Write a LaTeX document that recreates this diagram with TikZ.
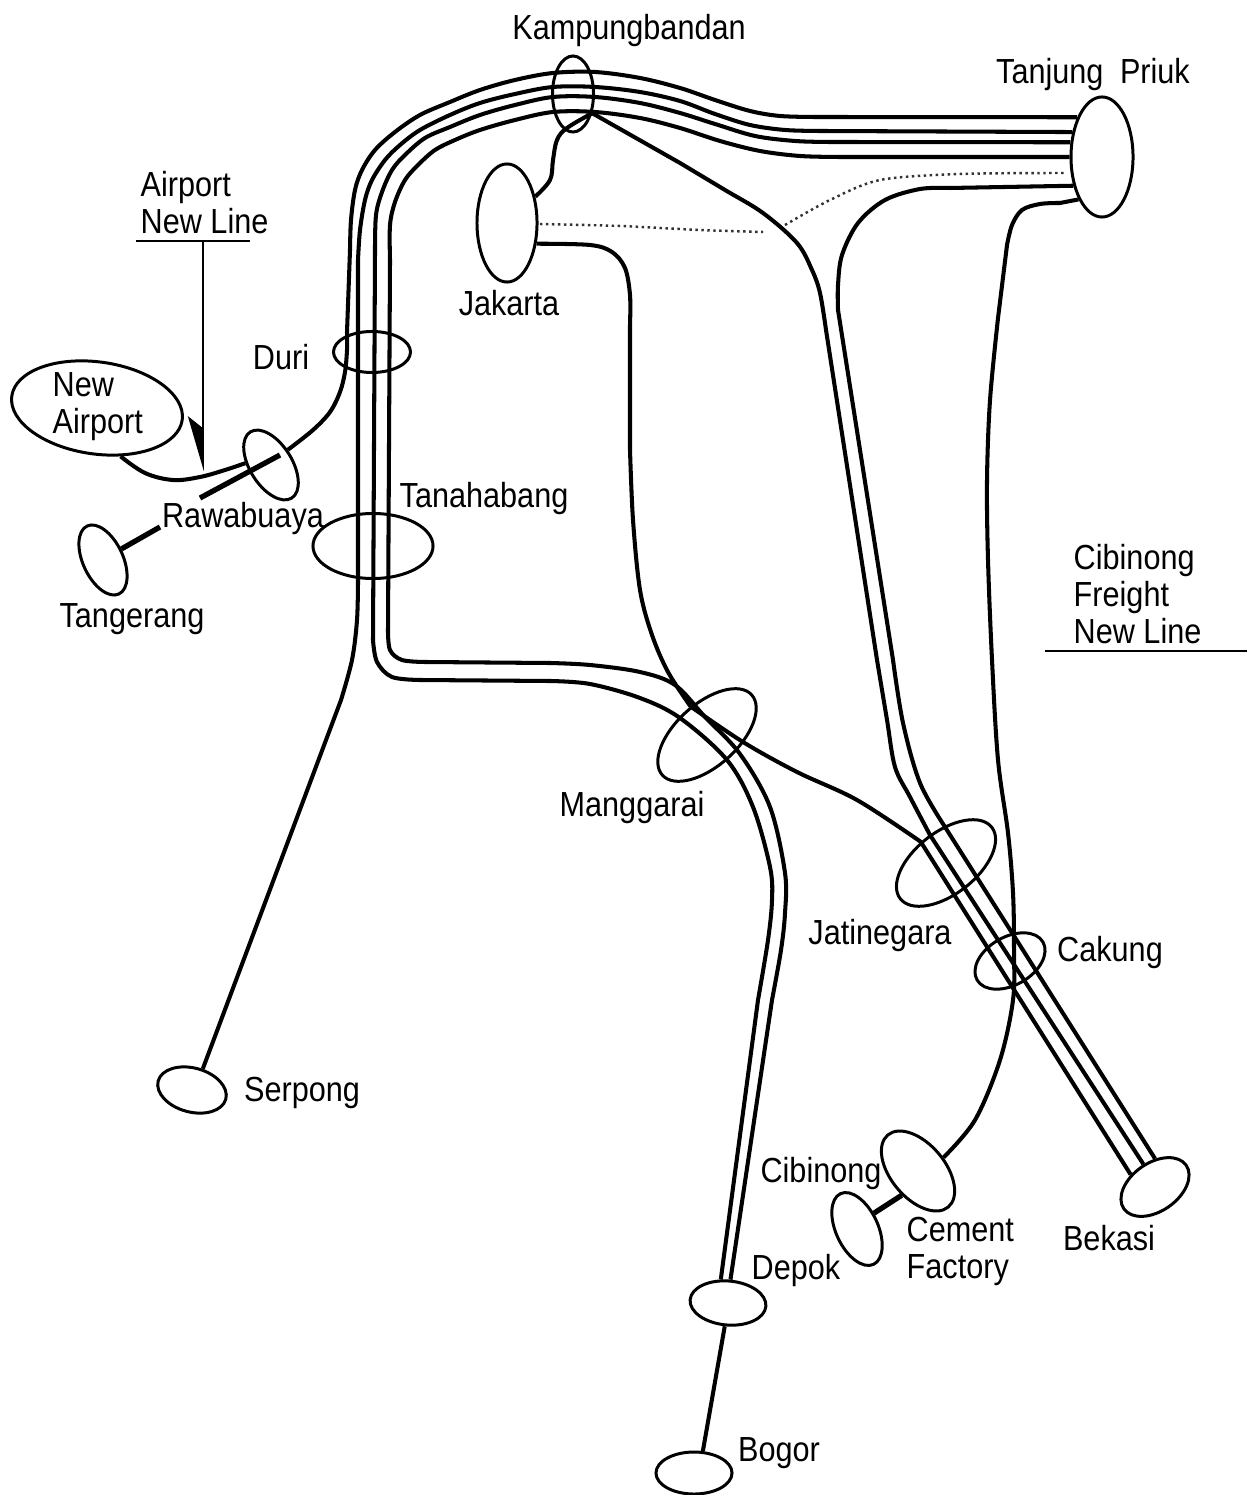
\documentclass[tikz,border=0pt]{standalone}
\usepackage{fontspec}
\setmainfont[FakeStretch=0.88]{Liberation Sans}
\usetikzlibrary{shapes.geometric, arrows.meta}
\tikzset{
  station/.style={ellipse, draw=black, inner sep=0pt, line width=0.85pt},
  place/.style={inner sep=0pt, align=left, font=\fontsize{9.9}{10.5}\selectfont},
  rail/.style={line width=1.15pt, color=black},
  spur/.style={line width=1.5pt, color=black},
  thinline/.style={line width=0.45pt, color=black},
  planned/.style={line width=0.7pt, densely dotted, color=black!80}
}
\begin{document}
\begin{tikzpicture}[x=0.01cm, y=-0.01cm]
  \useasboundingbox (0,0) rectangle (1249,1495);

  % Stations
  \node[station, minimum width=0.41cm, minimum height=0.76cm] (kampung) at (573,94) {};
  \node[station, minimum width=0.62cm, minimum height=1.2cm] (tanjung) at (1102,157) {};
  \node[station, minimum width=0.6cm, minimum height=1.18cm] (jakarta) at (507,223) {};
  \node[station, minimum width=0.77cm, minimum height=0.41cm] (duri) at (372,352) {};
  \node[station, minimum width=1.72cm, minimum height=0.92cm, rotate=-8] (newairport) at (97,408) {};
  \node[station, minimum width=0.78cm, minimum height=0.42cm, rotate=-58] (rawabuaya) at (271,465) {};
  \node[station, minimum width=1.2cm, minimum height=0.65cm] (tanahabang) at (373,546) {};
  \node[station, minimum width=0.75cm, minimum height=0.4cm, rotate=-65] (tangerang) at (103,560) {};
  \node[station, minimum width=1.2cm, minimum height=0.62cm, rotate=42] (manggarai) at (707,735) {};
  \node[station, minimum width=1.16cm, minimum height=0.62cm, rotate=38] (jatinegara) at (946,863) {};
  \node[station, minimum width=0.76cm, minimum height=0.48cm, rotate=30] (cakung) at (1010,961) {};
  \node[station, minimum width=0.7cm, minimum height=0.44cm, rotate=-15] (serpong) at (192,1090) {};
  \node[station, minimum width=0.94cm, minimum height=0.54cm, rotate=-50] (cement) at (918,1171) {};
  \node[station, minimum width=0.78cm, minimum height=0.42cm, rotate=-65] (cibinong) at (857,1229) {};
  \node[station, minimum width=0.76cm, minimum height=0.48cm, rotate=35] (bekasi) at (1155,1187) {};
  \node[station, minimum width=0.76cm, minimum height=0.44cm, rotate=-5] (depok) at (728,1303) {};
  \node[station, minimum width=0.76cm, minimum height=0.42cm] (bogor) at (694,1473) {};

  % Labels
  \node[place] (kampunglabel) at (629,31) {Kampungbandan};
  \node[place] (tanjunglabel) at (1093,75) {Tanjung\hspace{0.08cm} Priuk};
  \node[place, anchor=west] (airportlabel) at (140,203) {Airport\\New Line};
  \node[place] (jakartalabel) at (509,303) {Jakarta};
  \node[place] (durilabel) at (281,357) {Duri};
  \node[place, anchor=west] (newairportlabel) at (52,407) {New\\Airport};
  \node[place] (rawabuayalabel) at (243,519) {Rawabuaya};
  \node[place] (tanahabanglabel) at (484,499) {Tanahabang};
  \node[place] (tangeranglabel) at (132,619) {Tangerang};
  \node[place, anchor=west] (freightlabel) at (1073,594) {Cibinong\\Freight\\New Line};
  \node[place] (manggarailabel) at (632,807) {Manggarai};
  \node[place] (jatinegaralabel) at (880,935) {Jatinegara};
  \node[place] (cakunglabel) at (1110,952) {Cakung};
  \node[place] (serponglabel) at (302,1093) {Serpong};
  \node[place] (cibinonglabel) at (821,1173) {Cibinong};
  \node[place, anchor=west] (cementlabel) at (906,1251) {Cement\\Factory};
  \node[place] (bekasilabel) at (1109,1238) {Bekasi};
  \node[place] (depoklabel) at (796,1270) {Depok};
  \node[place] (bogorlabel) at (779,1453) {Bogor};

  % Underlines and the airport arrow
  \coordinate (airportleft) at (136,241);
  \coordinate (airportright) at (250,241);
  \coordinate (airportdrop) at (203,241);
  \coordinate (airporttip) at (203,471);
  \coordinate (freightleft) at (1045,651);
  \coordinate (freightright) at (1247,651);
  \draw[thinline] (airportleft) -- (airportright);
  \draw[thinline] (freightleft) -- (freightright);
  \draw[thinline, -{Stealth[harpoon, swap, length=14.8pt, width=8.6pt, inset=3.4pt]}] (airportdrop) -- (airporttip);

  % Four tracks out of Tanjung Priuk
  \draw[rail] (tanjung.122) -- plot[smooth, tension=0.55] coordinates {(815,117) (780,116) (750,111) (715,100) (680,88) (640,78) (595,72) (553,73) (515,80) (480,90) (450,102) (420,115) (395,132) (375,150) (362,170) (355,190) (351,220) (350,250)}
    -- plot[smooth, tension=0.55] coordinates {(347,332) (347,350) (345,372) (340,392) (330,412) (313,430) (rawabuaya.100)};
  \draw[rail] (tanjung.140) -- plot[smooth, tension=0.55] coordinates {(820,131) (785,130) (750,125) (715,114) (680,101) (640,92) (595,87) (553,87) (515,94) (480,103) (450,115) (420,130) (400,145) (385,160) (372,180) (365,200) (360,230) (358,260)}
    -- plot[smooth, tension=0.55] coordinates {(358,580) (357,620) (352,660) (341,700)} -- (serpong.78);
  \draw[rail] (tanjung.155) -- plot[smooth, tension=0.55] coordinates {(830,142) (795,141) (755,136) (715,124) (680,113) (640,103) (595,97) (553,97) (515,105) (480,115) (450,127) (425,138) (405,155) (392,170) (382,192) (376,215) (375,250)}
    -- plot[smooth, tension=0.55] coordinates {(373,640) (377,662) (392,677) (420,680)}
    -- plot[smooth, tension=0.55] coordinates {(550,681) (590,684) (640,698) (680,718) (727,760) (753,807) (770,867) (772,900) (768,940) (758,1000)} -- (depok.112);
  \draw[rail] (tanjung.180) -- plot[smooth, tension=0.55] coordinates {(840,157) (800,156) (760,151) (720,141) (680,128) (640,118) (595,112) (553,112) (515,120) (480,130) (455,140) (435,150) (418,165) (405,180) (395,202) (390,225) (390,260)}
    -- plot[smooth, tension=0.55] coordinates {(388,630) (390,650) (402,660) (425,662)}
    -- plot[smooth, tension=0.55] coordinates {(550,663) (590,665) (640,672) (675,685) (705,717) (740,754) (770,807) (785,873) (785,913) (781,950) (772,1000)} -- (depok.89);
  \draw[rail] (depok.267) -- (bogor.68);

  % Rawabuaya branch
  \coordinate (airportspur) at (280,455);
  \coordinate (airportspurend) at (200,498);
  \coordinate (tangerangspur) at (160,527);
  \draw[rail] plot[smooth, tension=0.6] coordinates {(rawabuaya.234) (225,470) (200,477) (173,480) (145,473) (newairport.-56)};
  \draw[spur] (airportspur) -- (airportspurend);
  \draw[spur] (tangerangspur) -- (tangerang.96);

  % Jakarta connections
  \draw[rail] plot[smooth, tension=0.6] coordinates {(jakarta.43) (550,180) (553,160) (557,140) (567,128) (kampung.-45)};
  \draw[rail] plot[smooth, tension=0.55] coordinates {(jakarta.-35) (590,245) (612,252) (625,268) (630,295) (630,325)}
    -- plot[smooth, tension=0.55] coordinates {(630,450) (633,520) (640,590) (652,635) (668,672) (manggarai.78)};
  \draw[planned] plot[smooth] coordinates {(540,224) (620,226) (700,230) (763,232)};
  \draw[planned] plot[smooth] coordinates {(785,225) (830,200) (880,180) (960,174) (1065,173)};

  % Lines to Bekasi
  \draw[rail] plot[smooth, tension=0.55] coordinates {(manggarai.78) (743,742) (797,772) (857,800) (jatinegara.102)} -- (bekasi.118);
  \draw[rail] (kampung.-45) -- plot[smooth, tension=0.55] coordinates {(680,163) (725,190) (763,213) (797,243) (812,270) (820,293) (826,330)}
    -- plot[smooth, tension=0.55] coordinates {(877,660) (887,720) (895,767) (910,797) (930,835)} -- (bekasi.82);
  \draw[rail] (tanjung.225) -- plot[smooth, tension=0.55] coordinates {(950,188) (920,189) (885,200) (858,223) (842,255) (838,285) (838,310)}
    -- plot[smooth, tension=0.55] coordinates {(893,660) (903,723) (920,783) (945,827)} -- (bekasi.55);

  % Freight line to the cement factory
  \draw[rail] (tanjung.241) -- plot[smooth, tension=0.55] coordinates {(1060,203) (1040,204) (1022,210) (1012,225) (1007,245)}
    -- plot[smooth, tension=0.55] coordinates {(998,318) (990,400) (987,480) (988,560) (992,660) (998,760) (1008,833) (1013,893) (1014,950) (1013,1000) (1000,1060) (975,1120) (cement.78)};
  \draw[spur] (cement.286) -- (cibinong.108);
\end{tikzpicture}
\end{document}
